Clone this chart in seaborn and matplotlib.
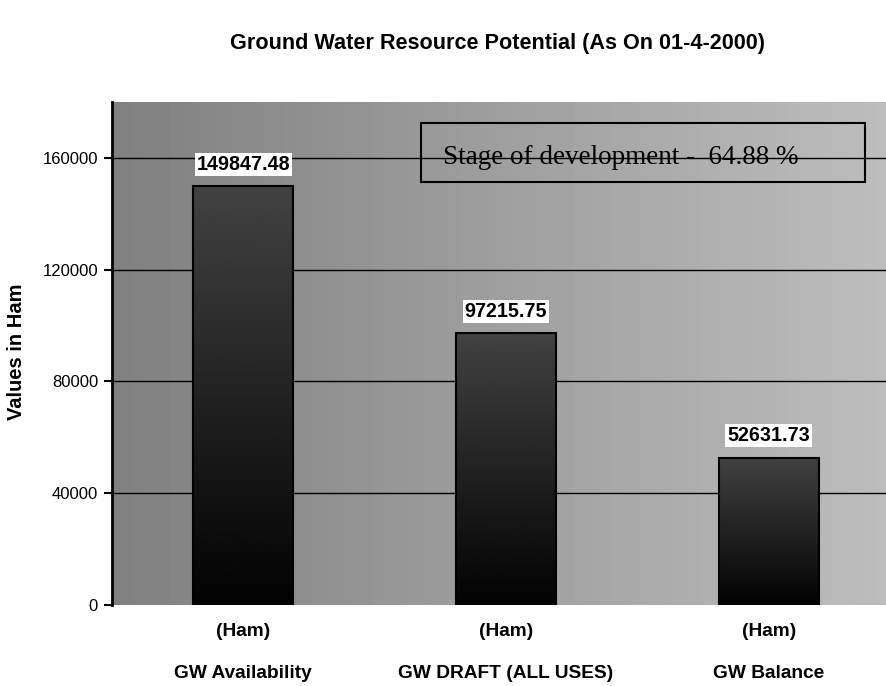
import numpy as np
import pandas as pd
import seaborn as sns
import matplotlib.pyplot as plt
from matplotlib.patches import Rectangle

categories = ['GW Availability', 'GW DRAFT (ALL USES)', 'GW Balance']
unit = '(Ham)'
values = [149847.48, 97215.75, 52631.73]
value_labels = ['149847.48', '97215.75', '52631.73']
yticks = [0, 40000, 80000, 120000, 160000]
title = 'Ground Water Resource Potential (As On 01-4-2000)'
ylabel = 'Values in Ham'
note = 'Stage of development -  64.88 %'

sns.set_style('white')
plt.rcParams['font.family'] = ['Liberation Sans', 'DejaVu Sans']
plt.rcParams['text.color'] = 'black'
plt.rcParams['xtick.color'] = 'black'
plt.rcParams['ytick.color'] = 'black'

df = pd.DataFrame({'cat': categories, 'val': values})

fig = plt.figure(figsize=(8.86, 6.86), dpi=100)
W, H = 886, 686
ax = fig.add_axes([112 / W, 1 - 605 / H, 788 / W, 503 / H])

sns.barplot(data=df, x='cat', y='val', width=0.38, color='#404040',
            edgecolor='black', linewidth=1.5, ax=ax, zorder=3)

# horizontal background gradient
bg = np.linspace(0x80, 0xbe, 256).reshape(1, -1) / 255
ax.imshow(bg, cmap='gray', vmin=0, vmax=1, aspect='auto', extent=[0, 1, 0, 1],
          transform=ax.transAxes, zorder=0, interpolation='bilinear')

# vertical gradient inside each bar
grad = np.linspace(0x42, 0x02, 256).reshape(-1, 1) / 255
for p in ax.patches:
    x0, y0 = p.get_x(), p.get_y()
    im = ax.imshow(grad, cmap='gray', vmin=0, vmax=1, aspect='auto',
                   extent=[x0, x0 + p.get_width(), y0, y0 + p.get_height()],
                   zorder=2.5, interpolation='bilinear')
    im.set_clip_path(p)
    p.set_facecolor('none')
    p.set_zorder(3)
ax.set_xlim(-0.5, 2.5)
ax.set_ylim(0, 180000)

ax.hlines([t for t in yticks if t > 0], -0.5, 2.5, colors='black', linewidth=1.0, zorder=1)

for i, (v, lab) in enumerate(zip(values, value_labels)):
    ax.annotate(lab, (i, v), xytext=(0, 16), textcoords='offset points',
                ha='center', va='center', fontsize=14.2, fontweight='bold', zorder=5,
                bbox=dict(boxstyle='square,pad=0.1', fc='white', ec='none'))

ax.set_yticks(yticks)
ax.set_yticklabels([str(t) for t in yticks], fontsize=12)
ax.set_xticks(range(len(categories)))
ax.set_xticklabels([f'{unit}\n\n{c}' for c in categories], fontsize=13.8,
                   fontweight='bold', linespacing=1.3)
ax.tick_params(axis='y', length=6, width=1.5, pad=4, left=True)
ax.tick_params(axis='x', length=0, pad=13)
ax.set_xlabel('')
ax.set_ylabel('')
for s in ['top', 'right', 'bottom']:
    ax.spines[s].set_visible(False)
ax.spines['left'].set_color('black')
ax.spines['left'].set_linewidth(2)

fig.text(498 / W, 1 - 43 / H, title, ha='center', va='center',
         fontsize=15.6, fontweight='bold')
fig.text(17 / W, 1 - 352 / H, ylabel, ha='center', va='center', rotation=90,
         fontsize=14.5, fontweight='bold')

fig.patches.append(Rectangle((421 / W, 1 - 182 / H), 444 / W, 59 / H,
                             transform=fig.transFigure, fill=False,
                             edgecolor='black', linewidth=1.5, zorder=6))
fig.text(443 / W, 1 - 164 / H, note, ha='left', va='baseline',
         fontsize=19.5, family=['Liberation Serif', 'DejaVu Serif'], zorder=7)

fig.savefig('out.png', dpi=100)
